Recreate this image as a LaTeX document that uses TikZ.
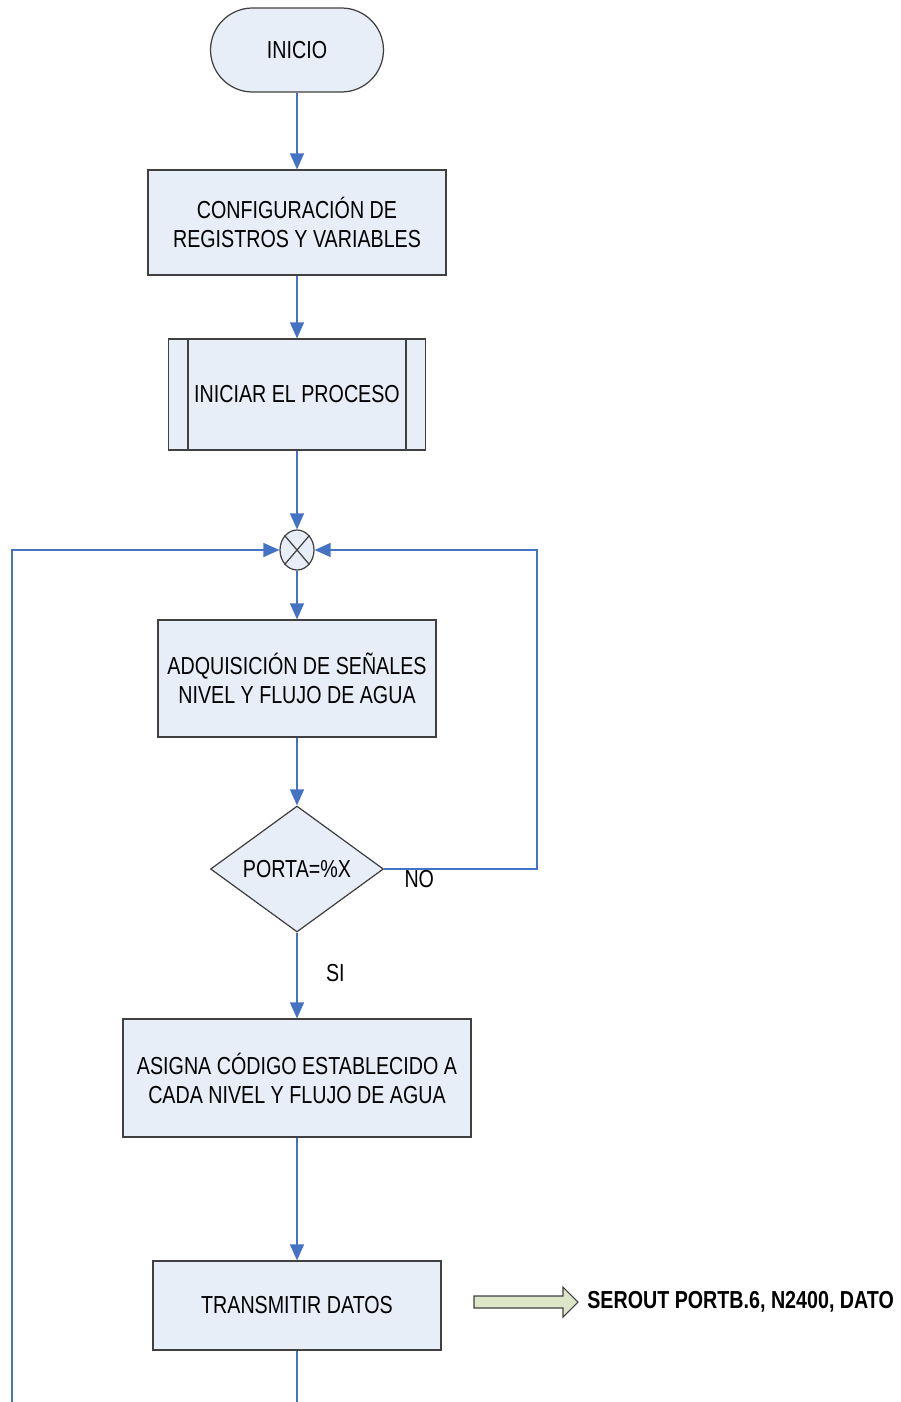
\documentclass[tikz,border=0pt]{standalone}
\usepackage{fontspec}
\setmainfont{Liberation Sans}[FakeStretch=0.8]
\usetikzlibrary{arrows.meta, positioning, shapes.geometric, shapes.misc}
\definecolor{boxfill}{RGB}{232,238,247}
\definecolor{flowblue}{RGB}{68,114,196}
\definecolor{edgegray}{RGB}{64,64,64}
\definecolor{arrowgreen}{RGB}{221,230,200}

\begin{document}
\begin{tikzpicture}[x=0.02cm, y=-0.02cm, font=\fontsize{14}{16.5}\selectfont,
        blk/.style={rectangle, draw=edgegray, line width=0.7pt, fill=boxfill, align=center, inner sep=0pt},
        flow/.style={-{Triangle[length=0.32cm, width=0.28cm]}, line width=0.8pt, flowblue},
        lbl/.style={text=black}]
    \useasboundingbox (0,0) rectangle (900,1402);
    \node[blk, rounded rectangle, minimum width=3.46cm, minimum height=1.68cm] (inicio) at (297,50) {INICIO};
    \node[blk, minimum width=5.96cm, minimum height=2.1cm] (config) at (297,222.5) {CONFIGURACIÓN DE\\REGISTROS Y VARIABLES};
    \node[blk, minimum width=5.14cm, minimum height=2.22cm] (iniciar) at (297,394.5) {INICIAR EL PROCESO};
    \node[blk, ellipse, minimum width=0.68cm, minimum height=0.8cm] (suma) at (297,550) {};
    \node[blk, minimum width=5.56cm, minimum height=2.34cm] (adq) at (297,678.5) {ADQUISICIÓN DE SEÑALES\\NIVEL Y FLUJO DE AGUA};
    \node[blk, diamond, aspect=1.37, minimum width=3.46cm, minimum height=2.52cm] (dec) at (297,869) {PORTA=\%X};
    \node[blk, minimum width=6.96cm, minimum height=2.36cm] (asigna) at (297,1078) {ASIGNA CÓDIGO ESTABLECIDO A\\CADA NIVEL Y FLUJO DE AGUA};
    \node[blk, minimum width=5.76cm, minimum height=1.78cm] (transmitir) at (297,1305.5) {TRANSMITIR DATOS};
    \node[anchor=west, font=\fontsize{14}{16.5}\selectfont\bfseries, inner sep=0pt] (serout) at (587,1302) {SEROUT PORTB.6, N2400, DATO};
    \coordinate (finbot) at (297,1402);
    \coordinate (loopbot) at (12,1402);
    \coordinate (retorno) at (537,869);
    % cruz del sumador y lineas del subproceso
    \draw[edgegray, line width=0.7pt] (suma.north west) -- (suma.south east) (suma.north east) -- (suma.south west);
    \draw[edgegray, line width=0.7pt] ([xshift=0.4cm]iniciar.north west) -- ([xshift=0.4cm]iniciar.south west)
        ([xshift=-0.4cm]iniciar.north east) -- ([xshift=-0.4cm]iniciar.south east);
    \foreach \a/\b in {inicio/config, config/iniciar, iniciar/suma, suma/adq, adq/dec, asigna/transmitir}
        \draw[flow] (\a.south) -- (\b.north);
    \draw[flow] (dec.south) -- node[lbl, right=0.45cm, yshift=0.05cm]{SI} (asigna.north);
    \draw[flow] (dec.east) -- node[lbl, pos=0.23, yshift=-0.2cm]{NO} (retorno) |- (suma.east);
    \draw[flow] (loopbot) |- (suma.west);
    \draw[line width=0.8pt, flowblue] (transmitir.south) -- (finbot);
    % flecha de bloque
    \draw[edgegray, line width=0.6pt, fill=arrowgreen] (474,1296) -- (563,1296) -- (563,1287) -- (578,1302)
        -- (563,1317) -- (563,1308) -- (474,1308) -- cycle;
\end{tikzpicture}
\end{document}
